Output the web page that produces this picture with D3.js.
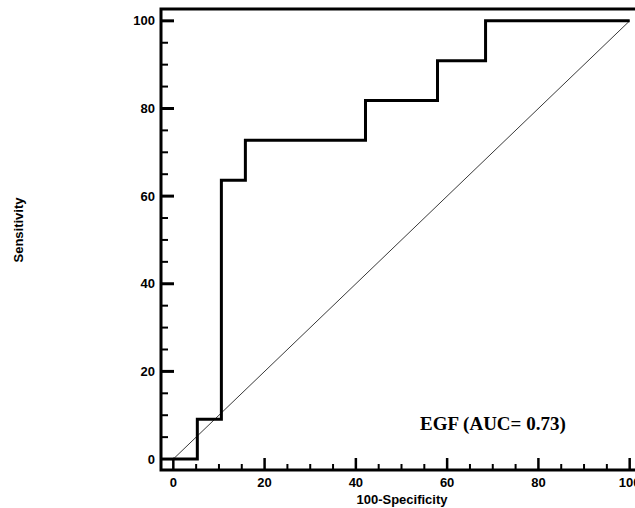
<!DOCTYPE html>
<html>
<head>
  <meta charset="utf-8">
  <title>ROC EGF</title>
  <style>
    body { margin: 0; background: #fff; }
    svg { display: block; }
    .tick-label { font-family: "Liberation Sans", Arial, sans-serif; font-weight: bold; font-size: 13px; }
    .axis-title { font-family: "Liberation Sans", Arial, sans-serif; font-weight: bold; font-size: 13px; }
  </style>
</head>
<body>
  <svg></svg>
  <script src="https://cdnjs.cloudflare.com/ajax/libs/d3/7.8.5/d3.min.js"></script>
  <script>
    // ROC points (100-Specificity, Sensitivity)
    var fpr = [0, 5.26, 5.26, 10.53, 10.53, 15.79, 15.79, 42.11, 42.11, 57.89, 57.89, 68.42, 68.42, 100];
    var tpr = [0, 0, 9.09, 9.09, 63.64, 63.64, 72.73, 72.73, 81.82, 81.82, 90.91, 90.91, 100, 100];
    var majorTicks = [0, 20, 40, 60, 80, 100];
    var minorTicks = d3.range(0, 101, 5).filter(d => d % 20 !== 0);
    var label = "EGF (AUC= 0.73)";

    var width = 635, height = 508;
    var svg = d3.select("svg").attr("width", width).attr("height", height);

    var x = d3.scaleLinear().domain([-2.7, 102.7]).range([161, 642]);
    var y = d3.scaleLinear().domain([-2.5, 102.7]).range([470, 9]);

    // diagonal
    svg.append("line")
      .attr("x1", x(0)).attr("y1", y(0)).attr("x2", x(100)).attr("y2", y(100))
      .attr("stroke", "#222").attr("stroke-width", 0.9);

    // ROC step curve
    var line = d3.line().x((d, i) => x(fpr[i])).y((d, i) => y(tpr[i]));
    svg.append("path")
      .datum(fpr)
      .attr("d", line)
      .attr("fill", "none")
      .attr("stroke", "#000")
      .attr("stroke-width", 3)
      .attr("stroke-linejoin", "miter");

    // frame: left, top, bottom
    svg.append("path")
      .attr("d", "M" + x(102.7) + "," + y(102.7) + "H" + x(-2.7) + "V" + y(-2.5) + "H" + x(102.7))
      .attr("fill", "none").attr("stroke", "#000").attr("stroke-width", 3);

    // y ticks (inward)
    svg.selectAll(".ymaj").data(majorTicks).enter().append("line")
      .attr("x1", x(-2.7)).attr("x2", x(-2.7) + 13)
      .attr("y1", d => y(d)).attr("y2", d => y(d))
      .attr("stroke", "#000").attr("stroke-width", 3);
    svg.selectAll(".ymin").data(minorTicks).enter().append("line")
      .attr("x1", x(-2.7)).attr("x2", x(-2.7) + 7)
      .attr("y1", d => y(d)).attr("y2", d => y(d))
      .attr("stroke", "#000").attr("stroke-width", 2);
    svg.selectAll(".ylab").data(majorTicks).enter().append("text")
      .attr("class", "tick-label")
      .attr("x", 155).attr("y", d => y(d))
      .attr("dy", "0.35em").attr("text-anchor", "end")
      .text(d => d);

    // x ticks (inward)
    svg.selectAll(".xmaj").data(majorTicks).enter().append("line")
      .attr("x1", d => x(d)).attr("x2", d => x(d))
      .attr("y1", y(-2.5)).attr("y2", y(-2.5) - 12)
      .attr("stroke", "#000").attr("stroke-width", 2.5);
    svg.selectAll(".xmin").data(minorTicks).enter().append("line")
      .attr("x1", d => x(d)).attr("x2", d => x(d))
      .attr("y1", y(-2.5)).attr("y2", y(-2.5) - 6)
      .attr("stroke", "#000").attr("stroke-width", 2);
    svg.selectAll(".xlab").data(majorTicks).enter().append("text")
      .attr("class", "tick-label")
      .attr("x", d => x(d)).attr("y", 487)
      .attr("text-anchor", "middle")
      .text(d => d);

    // axis titles
    svg.append("text").attr("class", "axis-title")
      .attr("x", 402).attr("y", 504).attr("text-anchor", "middle")
      .text("100-Specificity");
    svg.append("text").attr("class", "axis-title")
      .attr("transform", "translate(23,230) rotate(-90)")
      .attr("text-anchor", "middle")
      .text("Sensitivity");

    // AUC label
    svg.append("text")
      .attr("x", 420).attr("y", 430)
      .attr("font-family", "'Liberation Serif', 'Times New Roman', serif")
      .attr("font-weight", "bold").attr("font-size", "19px")
      .text(label);
  </script>
</body>
</html>
